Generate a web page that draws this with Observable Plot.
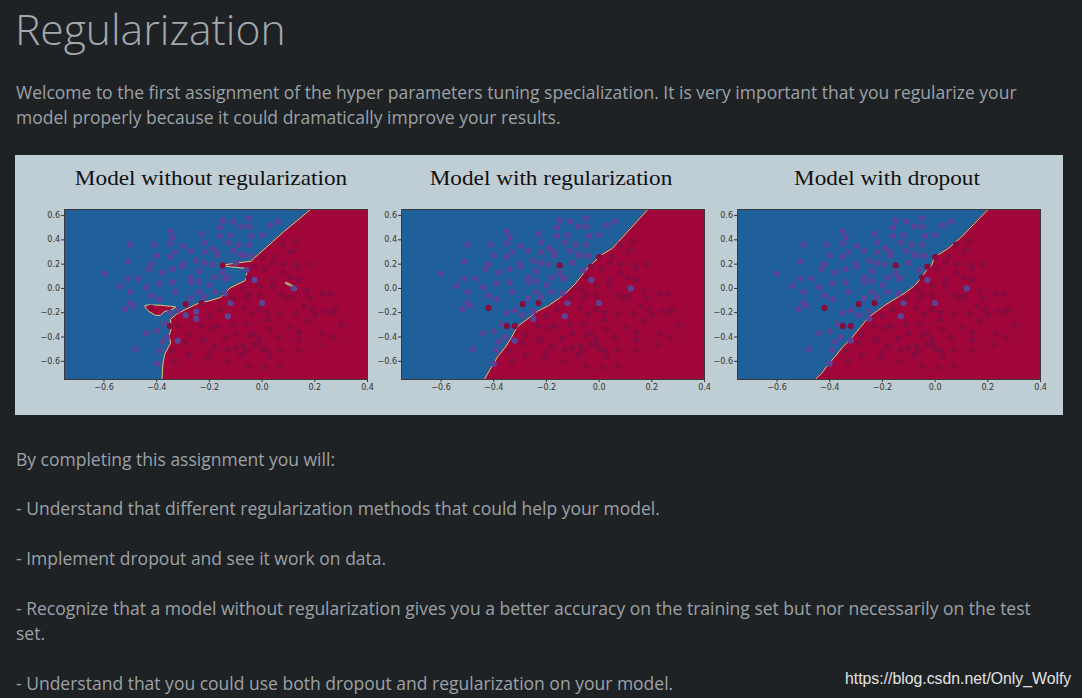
<!DOCTYPE html>
<html>
<head>
<meta charset="utf-8">
<script src="https://cdn.jsdelivr.net/npm/d3@7"></script>
<script src="https://cdn.jsdelivr.net/npm/@observablehq/plot@0.6"></script>
<style>
  html, body { margin: 0; padding: 0; }
  body { width: 1082px; height: 698px; overflow: hidden; position: relative; background: #1f2225; font-family: "Open Sans", sans-serif; }
  .t { position: absolute; white-space: nowrap; color: #9ca1a6; font-size: 17.5px; line-height: 25px; font-weight: 400; }
  #title { position: absolute; left: 15px; top: 7px; font-size: 42.6px; line-height: 42px; font-weight: 300; color: #a3a8ad; white-space: nowrap; }
  #panel { position: absolute; left: 15px; top: 155px; width: 1048px; height: 260px; background: #bfcdd4; }
  .st { position: absolute; width: 340px; text-align: center; font-family: "Liberation Serif", serif; font-size: 22px; line-height: 22px; color: #111; white-space: nowrap; transform: scaleX(1.056); }
  #wm { position: absolute; left: 845px; top: 670px; font-family: "Liberation Sans", Arial, sans-serif; font-size: 15.8px; line-height: 17px; color: #e2e2e2; white-space: nowrap; }
</style>
</head>
<body>
<div id="title">Regularization</div>
<div class="t" style="left:16px;top:80px;">Welcome to the first assignment of the hyper parameters tuning specialization. It is very important that you regularize your<br>model properly because it could dramatically improve your results.</div>
<div id="panel"></div>
<div class="t" style="left:16px;top:447px;">By completing this assignment you will:</div>
<div class="t" style="left:16px;top:496px;">- Understand that different regularization methods that could help your model.</div>
<div class="t" style="left:16px;top:546px;">- Implement dropout and see it work on data.</div>
<div class="t" style="left:16px;top:596px;">- Recognize that a model without regularization gives you a better accuracy on the training set but nor necessarily on the test<br>set.</div>
<div class="t" style="left:16px;top:671px;">- Understand that you could use both dropout and regularization on your model.</div>
<div id="wm">https://blog.csdn.net/Only_Wolfy</div>
<script>
// ---- data ----
const xDomain = [-0.75, 0.4];
const yDomain = [-0.75, 0.65];
const xTicks = [-0.6, -0.4, -0.2, 0, 0.2, 0.4];
const yTicks = [-0.6, -0.4, -0.2, 0, 0.2, 0.4, 0.6];
const titles = ["Model without regularization", "Model with regularization", "Model with dropout"];

// training points, label 0 (blue class)
const blueClass = [
  [-0.60,0.12],[-0.54,0.02],[-0.52,-0.17],[-0.50,0.36],[-0.51,0.22],[-0.51,0.08],[-0.50,-0.03],[-0.50,-0.12],
  [-0.49,-0.14],[-0.47,0.08],[-0.48,-0.50],[-0.44,0.01],[-0.43,0.16],[-0.42,0.20],[-0.41,0.36],[-0.40,0.27],
  [-0.42,-0.06],[-0.40,-0.35],[-0.40,-0.62],[-0.39,-0.09],[-0.39,0.04],[-0.38,0.13],[-0.38,-0.44],[-0.39,-0.51],
  [-0.37,-0.29],[-0.35,-0.20],[-0.35,0.37],[-0.35,0.26],[-0.35,0.47],[-0.34,0.42],[-0.34,0.16],[-0.34,0.05],
  [-0.36,-0.40],[-0.33,-0.03],[-0.33,0.30],[-0.32,-0.18],[-0.32,-0.43],[-0.30,0.18],[-0.30,0.20],[-0.30,0.35],
  [-0.29,-0.22],[-0.27,0.31],[-0.27,-0.08],[-0.27,0.05],[-0.27,0.09],[-0.25,0.23],[-0.24,0.14],[-0.24,-0.03],
  [-0.24,0.06],[-0.25,-0.25],[-0.23,0.45],[-0.22,0.38],[-0.22,0.30],[-0.22,0.21],[-0.20,0.03],[-0.19,0.20],
  [-0.18,-0.03],[-0.19,0.33],[-0.17,0.27],[-0.17,0.30],[-0.16,0.50],[-0.16,0.43],[-0.15,0.56],[-0.15,0.13],
  [-0.14,0.08],[-0.14,-0.04],[-0.13,0.38],[-0.13,0.09],[-0.12,-0.12],[-0.13,-0.23],[-0.11,0.31],[-0.11,0.55],
  [-0.10,0.21],[-0.09,0.36],[-0.08,0.28],[-0.08,0.51],[-0.07,0.27],[-0.06,0.15],[-0.05,0.58],[-0.05,0.36],
  [-0.05,0.51],[-0.04,0.27],[-0.04,0.43],[-0.03,0.07],[0.00,0.44],[0.00,-0.12],[0.03,0.52],[0.06,0.55],
  [0.12,0.00],[-0.18,0.09],[-0.22,-0.07],[-0.25,-0.19],[-0.44,-0.37],[-0.12,0.44]
];
// training points, label 1 (red class)
const redClass = [
  [-0.42,-0.16],[-0.35,-0.31],[-0.32,-0.31],[-0.29,-0.13],[-0.23,-0.12],[-0.15,0.19],[-0.03,0.18],[0.00,0.26],
  [0.08,0.36],[0.13,0.39],[0.11,0.30],[0.12,0.32],[0.05,0.26],[0.01,0.16],[0.04,0.21],[0.08,0.20],
  [0.13,0.20],[0.18,0.20],[0.14,0.17],[-0.05,0.09],[0.04,0.07],[0.08,0.13],[0.11,0.09],[0.14,0.07],
  [-0.07,0.00],[-0.01,0.02],[0.04,0.02],[0.17,-0.02],[0.23,-0.04],[0.26,-0.04],[0.07,-0.05],[-0.05,-0.05],
  [-0.11,-0.08],[-0.06,-0.08],[-0.01,-0.06],[0.09,-0.08],[0.11,-0.07],[0.18,-0.08],[-0.16,-0.17],[-0.07,-0.16],
  [-0.01,-0.17],[0.02,-0.20],[-0.04,-0.21],[0.07,-0.21],[0.13,-0.21],[0.16,-0.15],[0.19,-0.17],[0.20,-0.22],
  [0.24,-0.19],[0.27,-0.20],[0.28,-0.17],[0.17,-0.27],[0.30,-0.30],[-0.11,-0.30],[-0.06,-0.29],[0.02,-0.26],
  [-0.17,-0.31],[-0.10,-0.37],[-0.05,-0.39],[-0.03,-0.37],[0.03,-0.34],[0.10,-0.32],[0.14,-0.36],[0.23,-0.37],
  [0.27,-0.40],[-0.14,-0.41],[-0.01,-0.42],[0.06,-0.41],[0.14,-0.42],[0.22,-0.46],[-0.07,-0.48],[-0.03,-0.46],
  [-0.01,-0.46],[-0.13,-0.50],[-0.10,-0.49],[-0.06,-0.52],[0.00,-0.50],[0.02,-0.51],[0.07,-0.51],[0.14,-0.51],
  [-0.08,-0.55],[0.03,-0.56],[-0.13,-0.60],[-0.05,-0.64],[0.01,-0.65],[0.07,-0.64],[-0.20,-0.23],[-0.23,-0.31],
  [-0.19,-0.33],[-0.28,-0.38],[-0.23,-0.42],[-0.22,-0.43],[-0.18,-0.48],[-0.29,-0.45],[-0.34,-0.51],[-0.28,-0.55],
  [-0.20,-0.53],[-0.21,-0.58],[-0.33,-0.60]
];

// decision boundaries (left edge of the red region), [x, y] from top to bottom
const boundaryNoReg = [
  [0.184,0.65],[0.082,0.467],[0.018,0.342],[-0.033,0.245],[-0.04,0.225],[-0.10,0.208],[-0.157,0.19],
  [-0.12,0.178],[-0.06,0.165],[-0.058,0.10],[-0.064,0.065],[-0.122,0.004],[-0.157,-0.074],[-0.198,-0.101],
  [-0.249,-0.129],[-0.293,-0.176],[-0.325,-0.212],[-0.348,-0.254],[-0.344,-0.323],[-0.353,-0.392],
  [-0.347,-0.448],[-0.357,-0.489],[-0.37,-0.545],[-0.376,-0.614],[-0.38,-0.75]
];
const boundaryL2 = [
  [0.185,0.65],[0.12,0.495],[0.049,0.328],[0.007,0.273],[-0.040,0.176],[-0.066,0.107],[-0.091,0.037],
  [-0.123,-0.032],[-0.155,-0.087],[-0.193,-0.143],[-0.231,-0.184],[-0.282,-0.268],[-0.307,-0.309],
  [-0.320,-0.351],[-0.333,-0.406],[-0.358,-0.489],[-0.384,-0.559],[-0.422,-0.697],[-0.435,-0.75]
];
const boundaryDropout = [
  [0.201,0.65],[0.150,0.536],[0.10,0.425],[0.049,0.328],[0.012,0.278],[-0.007,0.23],[-0.013,0.19],
  [-0.033,0.148],[-0.051,0.093],[-0.077,0.024],[-0.114,-0.037],[-0.152,-0.087],[-0.19,-0.137],
  [-0.228,-0.198],[-0.253,-0.24],[-0.285,-0.323],[-0.316,-0.406],[-0.354,-0.49],[-0.379,-0.559],
  [-0.411,-0.642],[-0.43,-0.697],[-0.455,-0.75]
];
// islands of the unregularized model: x, top y, bottom y
const redIslandX = [-0.441,-0.428,-0.403,-0.384,-0.368,-0.345,-0.326];
const redIslandTop = [-0.143,-0.140,-0.141,-0.143,-0.146,-0.151,-0.157];
const redIslandBottom = [-0.165,-0.193,-0.226,-0.226,-0.193,-0.184,-0.157];
const blueIslandX = [0.092,0.105,0.12,0.132];
const blueIslandTop = [0.045,0.035,0.016,0.0];
const blueIslandBottom = [0.035,0.022,0.004,-0.012];

// ---- drawing ----
const BLUE = "#20609a", RED = "#a1063a", EDGE = "#c9d584";
const C0 = "#584597", C1 = "#870b3e";
const svgLeft = [30, 367, 703];
const titleCenter = [211, 551, 887];

const bluePts = blueClass.map(([x, y]) => ({x, y}));
const redPts = redClass.map(([x, y]) => ({x, y}));
const island = (xs, top, bottom) => xs.map((x, i) => ({x, y1: top[i], y2: bottom[i]}));

function subplot(boundary, extras) {
  const rows = boundary.map(([x, y]) => ({x, y, x2: xDomain[1]}));
  return Plot.plot({
    width: 347, height: 200,
    marginLeft: 34, marginRight: 10, marginTop: 8, marginBottom: 22,
    style: {background: "transparent", color: "#333", fontSize: "8px", fontFamily: "DejaVu Sans, sans-serif"},
    x: {domain: xDomain, ticks: xTicks, tickFormat: d3.format(".1f"), tickSize: 3, tickPadding: 2, label: null},
    y: {domain: yDomain, ticks: yTicks, tickFormat: d3.format(".1f"), tickSize: 3, tickPadding: 1.5, label: null},
    marks: [
      Plot.frame({fill: BLUE, stroke: "none"}),
      Plot.areaX(rows, {y: "y", x1: "x", x2: "x2", fill: RED}),
      Plot.line(rows, {x: "x", y: "y", stroke: EDGE, strokeWidth: 1}),
      ...extras,
      Plot.dot(bluePts, {x: "x", y: "y", r: 3.1, fill: C0, stroke: "none"}),
      Plot.dot(redPts, {x: "x", y: "y", r: 3.1, fill: C1, stroke: "none"}),
      Plot.frame({stroke: "#3a3a3a", strokeWidth: 1})
    ]
  });
}

const plots = [
  subplot(boundaryNoReg, [
    Plot.areaY(island(redIslandX, redIslandTop, redIslandBottom), {x: "x", y1: "y1", y2: "y2", fill: RED, stroke: EDGE, strokeWidth: 1}),
    Plot.areaY(island(blueIslandX, blueIslandTop, blueIslandBottom), {x: "x", y1: "y1", y2: "y2", fill: BLUE, stroke: EDGE, strokeWidth: 1})
  ]),
  subplot(boundaryL2, []),
  subplot(boundaryDropout, [])
];

plots.forEach((p, i) => {
  p.style.position = "absolute";
  p.style.left = svgLeft[i] + "px";
  p.style.top = "201px";
  document.body.appendChild(p);
  const t = document.createElement("div");
  t.className = "st";
  t.textContent = titles[i];
  t.style.left = (titleCenter[i] - 170) + "px";
  t.style.top = "167px";
  document.body.appendChild(t);
});
</script>
</body>
</html>
